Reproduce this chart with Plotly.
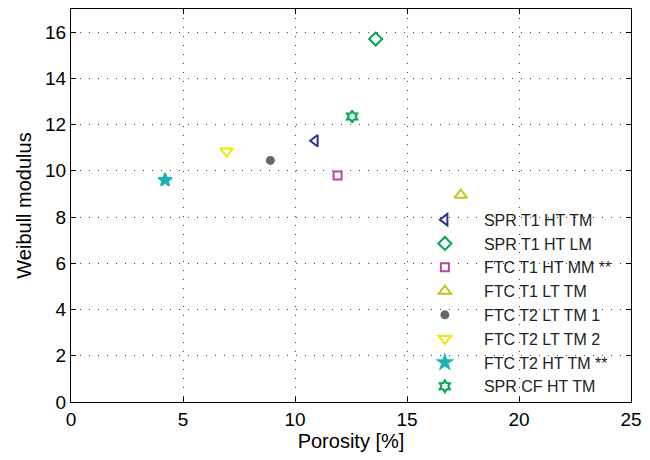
import plotly.graph_objects as go

names = ["SPR T1 HT TM", "SPR T1 HT LM", "FTC T1 HT MM **", "FTC T1 LT TM",
         "FTC T2 LT TM 1", "FTC T2 LT TM 2", "FTC T2 HT TM **", "SPR CF HT TM"]
porosity = [10.9, 13.6, 11.9, 17.4, 8.9, 6.95, 4.2, 12.55]
weibull = [11.3, 15.7, 9.8, 8.95, 10.45, 10.85, 9.6, 12.35]
symbols = ["triangle-left-open", "diamond-open", "square-open", "triangle-up-open",
           "circle", "triangle-down-open", "star", "hexagram-open"]
colors = ["#2e3192", "#00a651", "#b9479c", "#c9c31b", "#666666", "#f2e600", "#1eb3b3", "#00a651"]
sizes = [10, 10, 8, 11, 7, 11, 10, 9]

fig = go.Figure()
for n, x, y, s, c, sz in zip(names, porosity, weibull, symbols, colors, sizes):
    fig.add_trace(go.Scatter(
        x=[x], y=[y], mode="markers", name=n,
        marker=dict(symbol=s, color=c, size=sz, line=dict(color=c, width=2))))

font = "Liberation Sans, Arial, Helvetica, sans-serif"
axis_common = dict(showline=True, linecolor="black", linewidth=1, mirror="ticks",
                   ticks="inside", ticklen=5, tickcolor="black",
                   showgrid=True, gridcolor="#444444", griddash="1px,8px", gridwidth=1,
                   zeroline=False, tickfont=dict(size=19, color="black", family=font))
fig.update_xaxes(range=[0, 25], dtick=5,
                 title=dict(text="Porosity [%]", font=dict(size=20, family=font, color="black"), standoff=4),
                 **axis_common)
fig.update_yaxes(range=[0, 17], tickvals=[0, 2, 4, 6, 8, 10, 12, 14, 16],
                 title=dict(text="Weibull modulus", font=dict(size=20, family=font, color="black"), standoff=8),
                 **axis_common)

fig.update_layout(
    width=650, height=460,
    margin=dict(l=71, r=13, t=8, b=58),
    paper_bgcolor="white", plot_bgcolor="white",
    font=dict(family=font, color="black"),
    legend=dict(x=0.598, y=0.507, xanchor="left", yanchor="top", itemwidth=68,
                bgcolor="rgba(0,0,0,0)", font=dict(size=16, family=font, color="#222222"),
                tracegroupgap=0),
)
fig.write_html("out.html")
